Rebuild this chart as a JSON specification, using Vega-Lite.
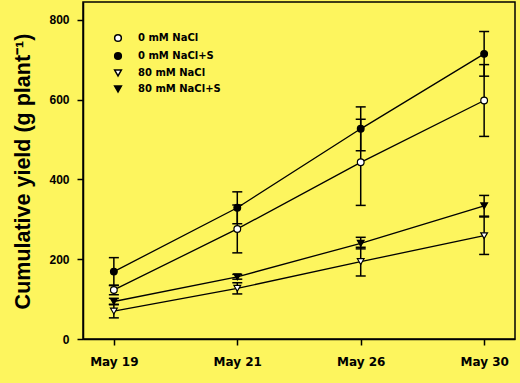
{
  "$schema": "https://vega.github.io/schema/vega-lite/v6.json",
  "width": 432,
  "height": 337,
  "autosize": {"type": "none"},
  "padding": {"left": 83, "top": 2, "right": 5, "bottom": 44},
  "background": "#FDF55E",
  "config": {
    "view": {"stroke": "black", "strokeWidth": 1.5},
    "font": "Liberation Sans"
  },
  "data": {
    "values": [
      {"date": "May 19", "series": "0 mM NaCl", "value": 123, "lo": 111, "hi": 135},
      {"date": "May 21", "series": "0 mM NaCl", "value": 276, "lo": 216, "hi": 336},
      {"date": "May 26", "series": "0 mM NaCl", "value": 443, "lo": 335, "hi": 551},
      {"date": "May 30", "series": "0 mM NaCl", "value": 598, "lo": 508, "hi": 688},
      {"date": "May 19", "series": "0 mM NaCl+S", "value": 169, "lo": 134, "hi": 204},
      {"date": "May 21", "series": "0 mM NaCl+S", "value": 329, "lo": 289, "hi": 369},
      {"date": "May 26", "series": "0 mM NaCl+S", "value": 527, "lo": 472, "hi": 582},
      {"date": "May 30", "series": "0 mM NaCl+S", "value": 715, "lo": 659, "hi": 771},
      {"date": "May 19", "series": "80 mM NaCl", "value": 70, "lo": 53, "hi": 87},
      {"date": "May 21", "series": "80 mM NaCl", "value": 127, "lo": 113, "hi": 141},
      {"date": "May 26", "series": "80 mM NaCl", "value": 194, "lo": 158, "hi": 230},
      {"date": "May 30", "series": "80 mM NaCl", "value": 259, "lo": 212, "hi": 306},
      {"date": "May 19", "series": "80 mM NaCl+S", "value": 94, "lo": 86, "hi": 102},
      {"date": "May 21", "series": "80 mM NaCl+S", "value": 156, "lo": 150, "hi": 162},
      {"date": "May 26", "series": "80 mM NaCl+S", "value": 240, "lo": 226, "hi": 255},
      {"date": "May 30", "series": "80 mM NaCl+S", "value": 334, "lo": 308, "hi": 360}
    ]
  },
  "encoding": {
    "x": {
      "field": "date",
      "type": "ordinal",
      "sort": ["May 19", "May 21", "May 26", "May 30"],
      "scale": {"type": "point", "padding": 0.25},
      "axis": {
        "title": null,
        "labelAngle": 0,
        "labelFont": "DejaVu Sans",
        "labelFontWeight": "bold",
        "labelFontSize": 12,
        "labelColor": "black",
        "labelPadding": 11,
        "tickColor": "black",
        "tickSize": 6,
        "tickWidth": 1.5,
        "domainColor": "black",
        "domainWidth": 1.5,
        "grid": false
      }
    }
  },
  "layer": [
    {
      "mark": {"type": "rule", "color": "black", "strokeWidth": 1.5},
      "encoding": {
        "y": {
          "field": "lo",
          "type": "quantitative",
          "scale": {"domain": [0, 845], "nice": false},
          "axis": {
            "values": [0, 200, 400, 600, 800],
            "grid": false,
            "title": "Cumulative yield (g plant⁻¹)",
            "titleFont": "Liberation Sans",
            "titleFontWeight": "bold",
            "titleFontSize": 21.5,
            "titleColor": "black",
            "titleX": -60,
            "titleY": 169,
            "titleAngle": -90,
            "titleAlign": "center",
            "titleBaseline": "middle",
            "labelFontWeight": "bold",
            "labelFontSize": 12,
            "labelColor": "black",
            "labelPadding": 8,
            "tickColor": "black",
            "tickSize": 6,
            "tickWidth": 1.5,
            "domainColor": "black",
            "domainWidth": 1.5
          }
        },
        "y2": {"field": "hi"}
      }
    },
    {
      "mark": {"type": "tick", "color": "black", "thickness": 1.5, "size": 10, "opacity": 1},
      "encoding": {"y": {"field": "lo", "type": "quantitative"}}
    },
    {
      "mark": {"type": "tick", "color": "black", "thickness": 1.5, "size": 10, "opacity": 1},
      "encoding": {"y": {"field": "hi", "type": "quantitative"}}
    },
    {
      "mark": {"type": "line", "color": "black", "strokeWidth": 1.3},
      "encoding": {
        "y": {"field": "value", "type": "quantitative"},
        "detail": {"field": "series"}
      }
    },
    {
      "mark": {"type": "point", "filled": true, "stroke": "black", "strokeWidth": 1.2, "size": 45, "opacity": 1},
      "encoding": {
        "y": {"field": "value", "type": "quantitative"},
        "shape": {
          "field": "series",
          "type": "nominal",
          "scale": {
            "domain": ["0 mM NaCl", "0 mM NaCl+S", "80 mM NaCl", "80 mM NaCl+S"],
            "range": ["circle", "circle", "triangle-down", "triangle-down"]
          },
          "legend": {
            "orient": "none",
            "legendX": 30,
            "legendY": 31,
            "title": null,
            "padding": 0,
            "labelFont": "DejaVu Sans",
            "labelFontSize": 10,
            "labelFontWeight": "bold",
            "labelColor": "black",
            "labelOffset": 15,
            "symbolSize": 45,
            "rowPadding": 4,
            "encode": {
              "symbols": {
                "update": {
                  "fill": {"signal": "indexof(datum.value, '+S') > 0 ? 'black' : 'white'"},
                  "stroke": {"value": "black"},
                  "strokeWidth": {"value": 1.2},
                  "opacity": {"value": 1}
                }
              }
            }
          }
        },
        "fill": {
          "field": "series",
          "type": "nominal",
          "scale": {
            "domain": ["0 mM NaCl", "0 mM NaCl+S", "80 mM NaCl", "80 mM NaCl+S"],
            "range": ["white", "black", "white", "black"]
          },
          "legend": null
        }
      }
    }
  ]
}
